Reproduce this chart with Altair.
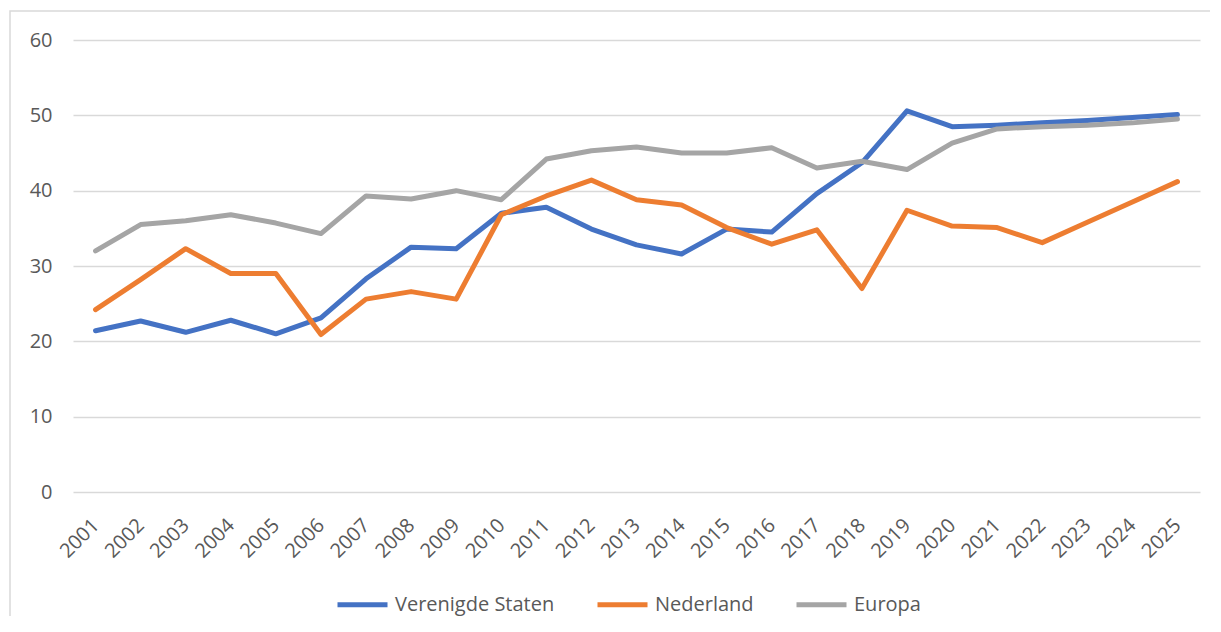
import altair as alt
import pandas as pd

years = [str(y) for y in range(2001, 2026)]
series_names = ["Verenigde Staten", "Nederland", "Europa"]
verenigde_staten = [21.4, 22.7, 21.2, 22.8, 21.0, 23.1, 28.3, 32.5, 32.3, 37.0, 37.8, 34.9, 32.8,
                    31.6, 34.9, 34.5, 39.6, 43.7, 50.6, 48.5, 48.7, 49.0, 49.3, 49.7, 50.1]
nederland = [24.2, 28.2, 32.3, 29.0, 29.0, 20.9, 25.6, 26.6, 25.6, 36.8, 39.3, 41.4, 38.8,
             38.1, 35.1, 32.9, 34.8, 27.0, 37.4, 35.3, 35.1, 33.1, 35.8, 38.5, 41.2]
europa = [32.0, 35.5, 36.0, 36.8, 35.7, 34.3, 39.3, 38.9, 40.0, 38.8, 44.2, 45.3, 45.8,
          45.0, 45.0, 45.7, 43.0, 43.9, 42.8, 46.3, 48.2, 48.5, 48.7, 49.0, 49.5]
colors = ["#4472C4", "#ED7D31", "#A5A5A5"]
y_ticks = [0, 10, 20, 30, 40, 50, 60]

rows = []
for name, vals in zip(series_names, [verenigde_staten, nederland, europa]):
    for yr, v in zip(years, vals):
        rows.append({"Jaar": yr, "Reeks": name, "Waarde": v})
df = pd.DataFrame(rows)

FONT = "Open Sans"
TXT = "#595959"

lines = alt.Chart(df).mark_line(strokeWidth=5, strokeCap="round", strokeJoin="round").encode(
    x=alt.X("Jaar:O", sort=years, title=None,
            scale=alt.Scale(type="point", padding=0.5),
            axis=alt.Axis(labelAngle=-45, labelAlign="right", labelBaseline="middle",
                          labelPadding=30, ticks=False, domain=False, grid=False,
                          labelFont=FONT, labelFontSize=20, labelColor=TXT)),
    y=alt.Y("Waarde:Q", title=None,
            scale=alt.Scale(domain=[0, 60], nice=False),
            axis=alt.Axis(values=y_ticks, ticks=False, domain=False, grid=True,
                          gridColor="#D9D9D9", gridWidth=1.5, labelPadding=21,
                          labelFont=FONT, labelFontSize=20, labelColor=TXT)),
    color=alt.Color("Reeks:N", sort=series_names,
                    scale=alt.Scale(domain=series_names, range=colors),
                    legend=alt.Legend(title=None, orient="none", direction="horizontal",
                                      legendX=262, legendY=537, symbolType="stroke",
                                      symbolSize=2500, symbolStrokeWidth=5,
                                      labelFont=FONT, labelFontSize=20, labelColor=TXT,
                                      labelOffset=5, columnPadding=32, padding=0)),
    order=alt.Order("Reeks:N"),
)

frame = alt.Chart(pd.DataFrame({"k": [0]})).mark_rect(
    fill=None, stroke="#D9D9D9", strokeWidth=1.5
).encode(
    x=alt.value(-63), x2=alt.value(1146), y=alt.value(-29), y2=alt.value(640)
)

chart = alt.layer(frame, lines).properties(
    width=1127, height=452,
    padding={"left": 65, "top": 32, "right": 10, "bottom": 124},
    autosize=alt.AutoSizeParams(type="none"),
).configure_view(stroke=None)

chart.save("out.html", embed_options={"renderer": "svg", "actions": False})
